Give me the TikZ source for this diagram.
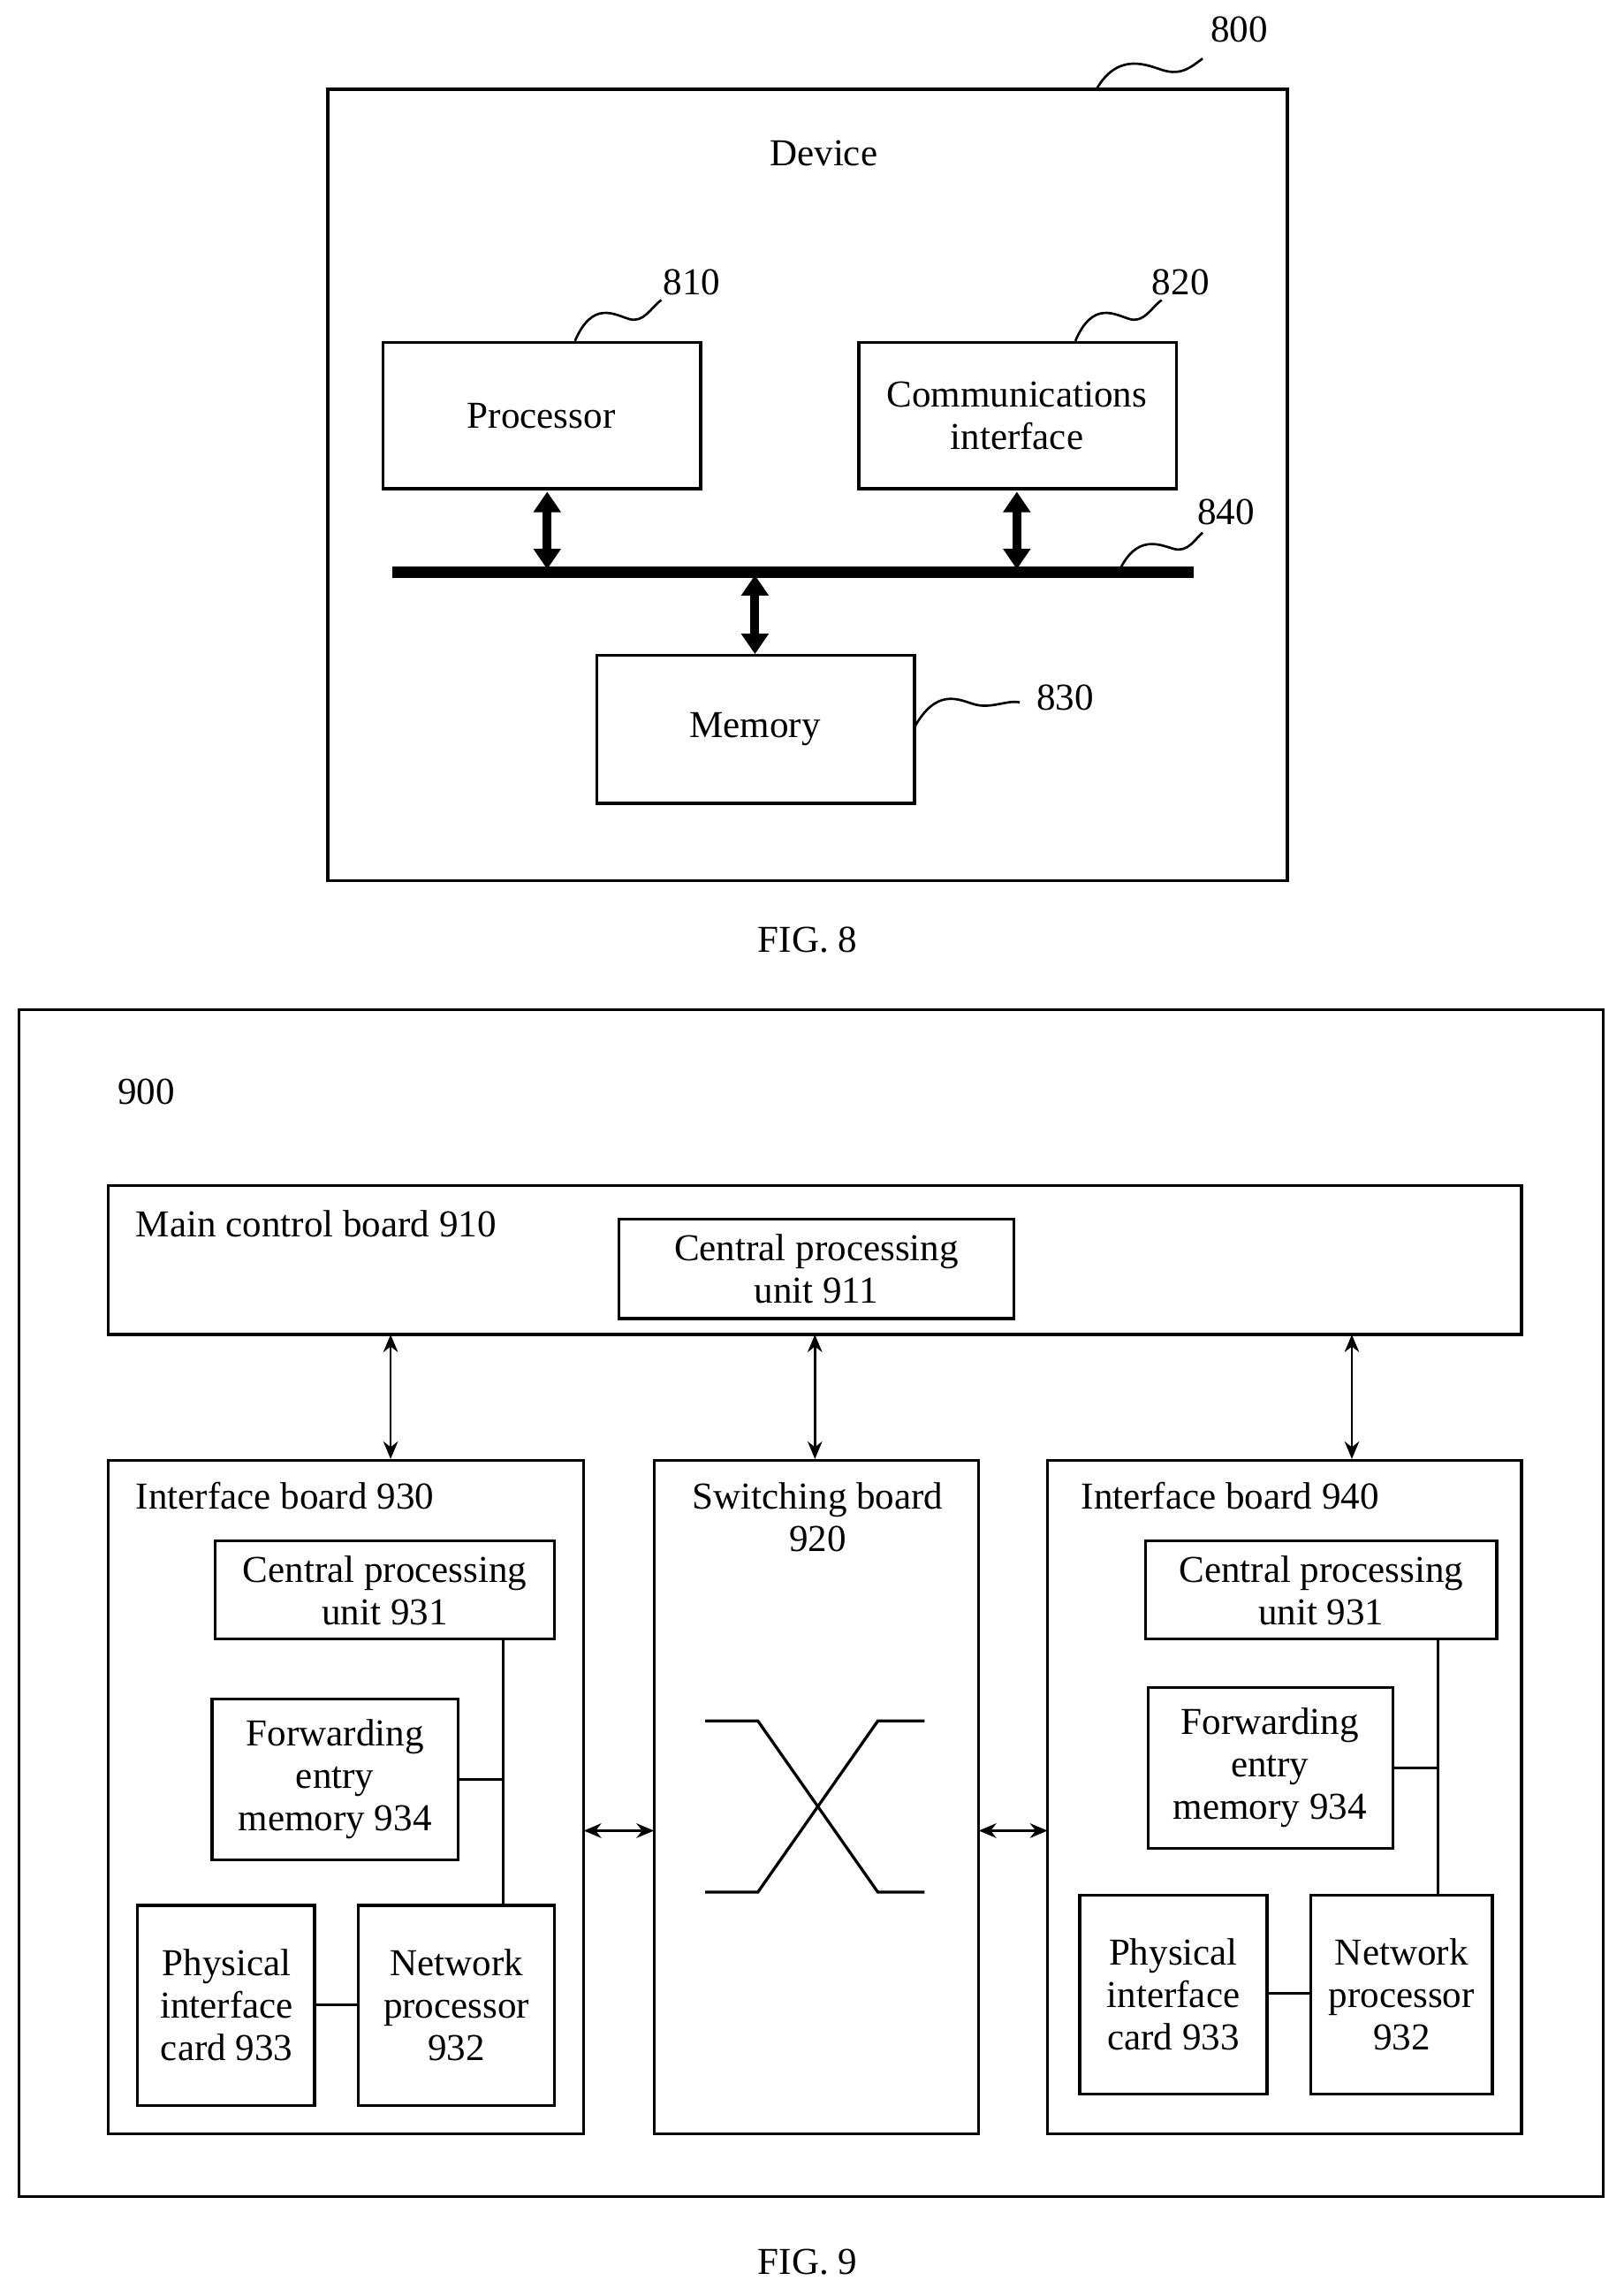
\documentclass[tikz,border=0pt]{standalone}
\usepackage{fontspec}
\setmainfont{Liberation Serif}
\usetikzlibrary{arrows.meta}
\begin{document}
\begin{tikzpicture}[x=0.5pt,y=-0.5pt,line width=1pt,
  box/.style={draw,line width=1pt},
  txt/.style={font=\fontsize{13}{14.5}\selectfont,align=center,inner sep=0pt},
  sq/.style={line width=0.8pt},
  big/.style={line width=3pt,{Triangle[length=7pt,width=9pt]}-{Triangle[length=7pt,width=9pt]}},
  thin/.style={line width=0.8pt,{Stealth[length=6pt,width=5pt]}-{Stealth[length=6pt,width=5pt]}}]
\useasboundingbox (0,0) rectangle (1110,1569);
% FIG 8
\draw[box] (224,61) rectangle (880,602);
\node[txt] (dev) at (563,105) {Device};
\node[txt] (l800) at (847,20) {800};
\draw[sq] (750,60) .. controls (765,35) and (785,45) .. (795,48) .. controls (808,52) and (815,45) .. (822,40);
\draw[box] (262,234) rectangle (479,334); \node[txt] (proc) at (370,284) {Processor};
\node[txt] (l810) at (473,193) {810};
\draw[sq] (393,233) .. controls (405,205) and (420,215) .. (430,218) .. controls (440,221) and (445,210) .. (452,205);
\draw[box] (587,234) rectangle (804,334); \node[txt] (comm) at (695,284) {Communications\\interface};
\node[txt] (l820) at (807,193) {820};
\draw[sq] (735,233) .. controls (747,205) and (762,215) .. (772,218) .. controls (782,221) and (787,210) .. (794,205);
\draw[line width=4pt] (268,391) -- (816,391);
\node[txt] (l840) at (838,350) {840};
\draw[sq] (765,390) .. controls (777,365) and (792,372) .. (802,375) .. controls (812,378) and (817,368) .. (822,364);
\draw[big] (374,336) -- (374,389);
\draw[big] (695,336) -- (695,389);
\draw[big] (516,393) -- (516,447);
\draw[box] (408,448) rectangle (625,549); \node[txt] (mem) at (516,498) {Memory};
\node[txt] (l830) at (728,477) {830};
\draw[sq] (625,497) .. controls (640,470) and (655,478) .. (665,481) .. controls (677,485) and (688,478) .. (697,480);
\node[txt] (f8) at (552,642) {FIG. 8};
% FIG 9
\draw[box] (13,690) rectangle (1096,1501);
\node[txt] (l900) at (100,746) {900};
\draw[box] (74,810) rectangle (1040,912);
\node[txt,anchor=west] (mcb) at (92,836) {Main control board 910};
\draw[box] (423,833) rectangle (693,901); \node[txt] (cpu911) at (558,867) {Central processing\\unit 911};
\draw[thin] (267,912) -- (267,997);
\draw[thin] (557,912) -- (557,997);
\draw[thin] (924,912) -- (924,997);
% board 930
\draw[box] (74,998) rectangle (399,1458);
\node[txt,anchor=west] (ib930) at (92,1022) {Interface board 930};
\draw[box] (147,1053) rectangle (379,1120); \node[txt] at (263,1087) {Central processing\\unit 931};
\draw[box] (145,1161) rectangle (313,1271); \node[txt] at (229,1216) {Forwarding\\entry\\memory 934};
\draw[box] (94,1302) rectangle (215,1439); \node[txt] at (155,1370) {Physical\\interface\\card 933};
\draw[box] (245,1302) rectangle (379,1439); \node[txt] at (312,1370) {Network\\processor\\932};
\draw (344,1120) -- (344,1302); \draw (313,1216) -- (344,1216); \draw (215,1370) -- (245,1370);
% switching
\draw[box] (447,998) rectangle (669,1458);
\node[txt] (sw) at (559,1037) {Switching board\\920};
\draw (482,1176) -- (518,1176) -- (600,1293) -- (632,1293);
\draw (482,1293) -- (518,1293) -- (600,1176) -- (632,1176);
\draw[thin] (399,1251) -- (447,1251);
\draw[thin] (669,1251) -- (716,1251);
% board 940
\draw[box] (716,998) rectangle (1040,1458);
\node[txt,anchor=west] (ib940) at (738,1022) {Interface board 940};
\draw[box] (783,1053) rectangle (1023,1120); \node[txt] at (903,1087) {Central processing\\unit 931};
\draw[box] (785,1153) rectangle (952,1263); \node[txt] at (868,1208) {Forwarding\\entry\\memory 934};
\draw[box] (738,1295) rectangle (866,1431); \node[txt] at (802,1363) {Physical\\interface\\card 933};
\draw[box] (896,1295) rectangle (1020,1431); \node[txt] at (958,1363) {Network\\processor\\932};
\draw (983,1120) -- (983,1295); \draw (952,1208) -- (983,1208); \draw (866,1362) -- (896,1362);
\node[txt] (f9) at (552,1546) {FIG. 9};
\end{tikzpicture}
\end{document}
